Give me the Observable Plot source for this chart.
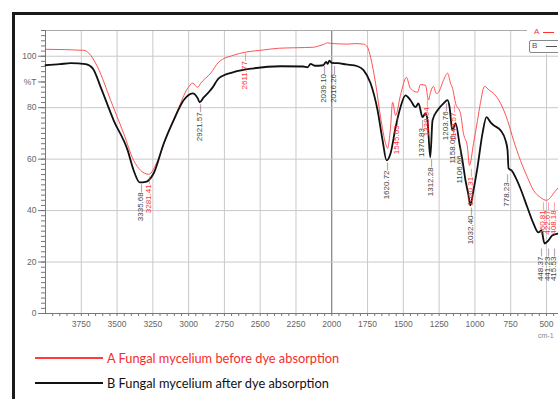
<!DOCTYPE html>
<html><head><meta charset="utf-8">
<script src="https://cdn.jsdelivr.net/npm/d3@7"></script>
<script src="https://cdn.jsdelivr.net/npm/@observablehq/plot@0.6"></script>
<style>
html,body{margin:0;padding:0;background:#fff;}
#wrap{position:relative;width:558px;height:399px;overflow:hidden;font-family:"Liberation Sans",Arial,sans-serif;}
#chart{position:absolute;left:0;top:0;}
#frame{position:absolute;left:12px;top:12px;width:620px;height:500px;border-top:3px solid #1a1a1a;border-left:3px solid #1a1a1a;pointer-events:none;}
.leg{position:absolute;font-family:Lato,"Open Sans",sans-serif;font-size:12.8px;white-space:nowrap;line-height:16px;}
.legline{position:absolute;height:2px;}
#tl{position:absolute;left:527px;top:26px;width:40px;height:28px;background:#fff;}
#boxB{position:absolute;left:529px;top:40px;width:40px;height:11px;border:1px solid #888;border-radius:2px;background:#fff;}
#unit{position:absolute;left:538px;top:332px;font-size:7px;color:#888;}
</style></head>
<body>
<div id="wrap">
  <div id="chart"></div>
  <div id="tl">
    <div style="position:absolute;left:7px;top:1px;font-size:8px;color:#ff3030;">A</div>
    <div style="position:absolute;left:16px;top:6px;width:11px;height:1px;background:#ff3030;"></div>
  </div>
  <div id="boxB">
    <div style="position:absolute;left:2px;top:0px;font-size:8px;line-height:10px;color:#555;">B</div>
    <div style="position:absolute;left:16px;top:5px;width:11px;height:1px;background:#555;"></div>
  </div>
  <div id="unit">cm-1</div>
  <div class="legline" style="left:35px;top:357px;width:68px;background:#ff3b3b;"></div>
  <div class="leg" id="legA" style="left:107px;top:350px;color:#f42c2c;"></div>
  <div class="legline" style="left:35px;top:382px;width:68px;background:#111;"></div>
  <div class="leg" id="legB" style="left:107px;top:375px;color:#111;"></div>
  <div id="frame"></div>
</div>
<script>
// ---- Data (wavenumber in cm-1, transmittance in %T) ----
const seriesNames = ["A Fungal mycelium before dye absorption", "B Fungal mycelium after dye absorption"];

const wavenumberA = [4000,3733,3698,3635,3545,3454,3384,3335,3279,3216,3146,3077,3007,2972,2937,2916,2846,2790,2686,2602,2497,2371,2250,2127,2090,2057,2030,2008,1950,1890,1840,1778,1750,1729,1694,1659,1624,1610,1590,1575,1554,1520,1478,1455,1436,1401,1380,1345,1324,1310,1289,1270,1254,1219,1191,1170,1156,1135,1101,1080,1052,1038,1010,982,961,933,900,870,821,772,730,682,633,591,542,500,472,451,416];
const transA = [102.7,102.3,101.2,95.7,82.9,70.0,59.5,55.6,54.1,59.5,70.0,79.0,87.5,89.5,87.9,89.5,93.4,97.7,100.4,101.6,102.3,103.1,103.3,103.5,104.0,104.6,105.2,105.0,104.8,104.7,104.9,104.7,103.5,99.6,89.5,76.3,66.1,64.2,72.0,82.1,77.0,84.8,91.8,88.0,86.8,86.0,89.0,88.7,83.0,86.0,88.3,85.5,86.0,90.7,93.4,89.5,87.5,81.7,77.8,70.0,64.6,57.6,66.0,75.0,82.0,88.3,86.8,85.6,81.7,75.1,67.3,59.5,52.9,47.9,45.1,44.0,45.1,46.7,49.0];

const wavenumberB = [4000,3900,3824,3719,3670,3614,3524,3426,3384,3342,3300,3279,3244,3174,3105,3035,2972,2937,2923,2895,2860,2832,2790,2686,2546,2357,2200,2169,2148,2120,2060,2039,2029,2016,2000,1959,1900,1820,1778,1729,1680,1645,1617,1589,1554,1520,1485,1450,1415,1394,1366,1345,1331,1312,1296,1261,1219,1191,1177,1158,1135,1106,1087,1066,1045,1032,1010,982,947,919,891,870,821,786,772,765,744,716,682,633,591,556,535,514,486,458,416];
const transB = [96.5,96.9,97.3,96.9,95.3,87.9,75.1,63.4,55.6,51.0,51.2,51.8,54.5,66.1,75.1,82.9,85.6,83.7,82.1,84.0,86.0,87.9,91.4,93.8,95.3,96.1,96.0,95.7,97.0,96.3,96.5,97.8,97.0,98.3,97.4,97.3,96.8,96.1,94.6,89.5,79.0,67.3,59.5,62.3,72.4,80.2,84.8,82.9,80.2,81.7,76.3,77.8,75.1,60.7,75.1,79.0,81.7,82.9,80.2,71.2,73.9,65.4,59.5,51.8,46.0,42.0,47.9,56.8,70.0,76.3,74.3,73.2,71.2,67.3,63.4,56.4,55.6,52.9,48.6,41.2,35.0,31.5,32.3,27.2,28.4,30.4,31.1];

// peak labels
const peakWnB = [3335.68,2921.57,2039.10,2016.26,1620.72,1370.83,1312.28,1203.76,1158.06,1106.66,1032.40,778.23,448.37,441.23,415.53];
const peakTB  = [51.0,82.1,97.0,97.0,59.5,76.0,60.7,82.5,73.2,65.4,42.0,54.9,26.0,26.0,26.0];
const peakWnA = [3281.41,2611.77,1545.03,1338.64,1149.57,1030.31,460.81,422.67,408.18];
const peakTA  = [54.1,102.0,77.0,84.0,82.0,57.0,44.0,44.0,44.0];

// axis ticks
const xTickLabels = [3750,3500,3250,3000,2750,2500,2250,2000,1750,1500,1250,1000,750,500];
const yTickLabels = [0,20,40,60,80,90,100];

// ---- build tables ----
const curveA = wavenumberA.map((w,i)=>({w, t: transA[i]}));
const curveB = wavenumberB.map((w,i)=>({w, t: transB[i]}));
const fmt = v => v.toFixed(2);
const labelsB = peakWnB.map((w,i)=>({w, t: peakTB[i], s: fmt(w) + "\u2014"}));
const labelsA = peakWnA.map((w,i)=>({w, t: peakTA[i], s: fmt(w) + "\u2014"}));

// layout nudges for crowded labels (pixels)
const nudgeB = {"2039.10":-3, "2016.26":4, "448.37":-13, "441.23":-7, "415.53":-5};
const nudgeA = {"460.81":-10, "422.67":-10, "408.18":-6};

function labelMarks(labels, nudge, fill) {
  const groups = d3.group(labels, d => nudge[fmt(d.w)] ?? 0);
  return Array.from(groups, ([dx, arr]) => Plot.text(arr, {
    x: "w", y: "t", text: "s", rotate: -90, textAnchor: "end", lineAnchor: "middle",
    dx, dy: 2, fontSize: 8, fill, fontFamily: "Liberation Sans"
  }));
}

const gridColor = "#c9c9c9";
const plot = Plot.plot({
  width: 558,
  height: 345,
  marginLeft: 45,
  marginRight: 0,
  marginTop: 30,
  marginBottom: 32,
  style: {fontFamily: "Liberation Sans", fontSize: "8.5px", color: "#666", background: "transparent", overflow: "visible"},
  x: {domain: [4000, 416], axis: null, label: null},
  y: {domain: [0, 110], axis: null, label: null},
  marks: [
    Plot.gridX(xTickLabels.filter(d => d !== 2000), {stroke: gridColor, strokeOpacity: 1}),
    Plot.gridX([2000], {stroke: "#666", strokeOpacity: 1}),
    Plot.gridY([20,40,60,80,100], {stroke: gridColor, strokeOpacity: 1}),
    Plot.ruleY([110], {stroke: "#aaa"}),
    Plot.ruleX([4000], {stroke: "#777"}),
    Plot.ruleY([0], {stroke: "#777"}),
    // minor ticks
    Plot.axisX(d3.range(3950, 440, -50), {tickSize: 3, tickFormat: () => "", stroke: "#777", label: null}),
    Plot.axisX(xTickLabels, {tickSize: 0, tickPadding: 7, fontSize: 8.5, fill: "#666", label: null,
      tickFormat: d => String(d)}),
    Plot.axisY(d3.range(0, 111, 2), {tickSize: 4, tickFormat: () => "", stroke: "#777", label: null}),
    Plot.axisY(yTickLabels, {tickSize: 7, tickPadding: 2, stroke: "#777", fill: "#666", fontSize: 8.5, label: null,
      tickFormat: d => d === 90 ? "%T" : String(d)}),
    Plot.line(curveA, {x: "w", y: "t", stroke: "#ff4040", strokeWidth: 0.9, curve: "monotone-x"}),
    Plot.line(curveB, {x: "w", y: "t", stroke: "#111", strokeWidth: 1.8, curve: "monotone-x"}),
    ...labelMarks(labelsB, nudgeB, "#444"),
    ...labelMarks(labelsA, nudgeA, "#ff3030")
  ]
});
document.getElementById("chart").appendChild(plot);
document.getElementById("legA").textContent = seriesNames[0];
document.getElementById("legB").textContent = seriesNames[1];
</script>
</body></html>
